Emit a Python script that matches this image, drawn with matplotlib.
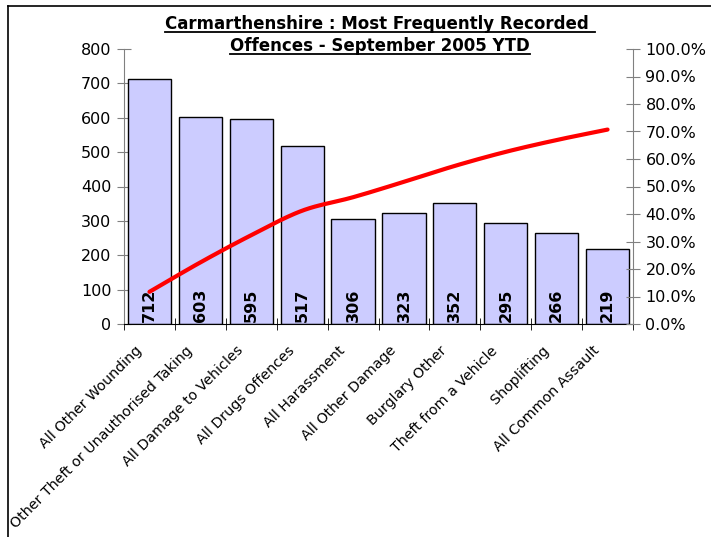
import numpy as np
import matplotlib
matplotlib.use("Agg")
import matplotlib.pyplot as plt
import matplotlib.transforms as mtransforms
from matplotlib.ticker import PercentFormatter, FixedLocator, NullFormatter
from matplotlib.lines import Line2D

categories = ["All Other Wounding", "Other Theft or Unauthorised Taking",
              "All Damage to Vehicles", "All Drugs Offences", "All Harassment",
              "All Other Damage", "Burglary Other", "Theft from a Vehicle",
              "Shoplifting", "All Common Assault"]
counts = [712, 603, 595, 517, 306, 323, 352, 295, 266, 219]
cum_pct = [0.117, 0.224, 0.323, 0.412, 0.461, 0.517, 0.575, 0.626, 0.669, 0.707]
title_lines = ["Carmarthenshire : Most Frequently Recorded ", "Offences - September 2005 YTD"]

def catmull(x, y, n=20):
    # smoothed line, like the spreadsheet's "smoothed line" option
    px = np.r_[2*x[0]-x[1], x, 2*x[-1]-x[-2]]
    py = np.r_[2*y[0]-y[1], y, 2*y[-1]-y[-2]]
    xs, ys = [], []
    t = np.linspace(0, 1, n, endpoint=False)
    for i in range(1, len(px)-2):
        for p, out in ((px, xs), (py, ys)):
            p0, p1, p2, p3 = p[i-1], p[i], p[i+1], p[i+2]
            out.extend(0.5*((2*p1) + (-p0+p2)*t + (2*p0-5*p1+4*p2-p3)*t**2 + (-p0+3*p1-3*p2+p3)*t**3))
    xs.append(x[-1]); ys.append(y[-1])
    return np.array(xs), np.array(ys)

W, H = 711, 537
fig = plt.figure(figsize=(W/100, H/100), dpi=100)
ax = fig.add_axes([124/W, 1-324/H, (633-124)/W, (324-49)/H])
x = np.arange(len(categories))
ax.bar(x, counts, width=0.85, color="#CCCCFF", edgecolor="black", linewidth=1, zorder=2)
for xi, v in zip(x, counts):
    ax.text(xi, 6, str(v), rotation=90, ha="center", va="bottom", fontsize=11.5,
            fontweight="bold", zorder=4)
ax.set_xlim(-0.5, len(categories)-0.5)
ax.set_ylim(0, 800)
ax.set_yticks(range(0, 801, 100))
ax.set_xticks(x)
ax.set_xticklabels(categories, rotation=45, ha="right", rotation_mode="anchor", fontsize=10.3)
ax.tick_params(axis="x", length=0, pad=14)
off = mtransforms.ScaledTranslation(-15/100, 0, fig.dpi_scale_trans)
for lab in ax.get_xticklabels():
    lab.set_transform(lab.get_transform() + off)
ax.xaxis.set_minor_locator(FixedLocator(np.arange(-0.5, len(categories), 1.0)))
ax.xaxis.set_minor_formatter(NullFormatter())
ax.tick_params(axis="x", which="minor", direction="inout", length=8, color="black")
ax.tick_params(axis="y", direction="inout", length=10, color="#808080", labelsize=11.5, pad=4)
ax.spines["top"].set_visible(False)
ax.spines["left"].set_color("#808080")
ax.spines["right"].set_visible(False)
ax.spines["bottom"].set_color("black")

ax2 = ax.twinx()
ax2.set_ylim(0, 1)
ax2.set_yticks(np.arange(0, 1.01, 0.1))
ax2.yaxis.set_major_formatter(PercentFormatter(1.0, decimals=1))
ax2.tick_params(axis="y", direction="inout", length=10, color="#808080", labelsize=11.5, pad=4)
for s in ("top", "left", "bottom"):
    ax2.spines[s].set_visible(False)
ax2.spines["right"].set_color("#808080")
sx, sy = catmull(x.astype(float), np.array(cum_pct))
ax2.plot(sx, sy, color="red", linewidth=3, solid_capstyle="round", zorder=5)

# chart area border (left and top visible)
fig.add_artist(Line2D([8/W, 8/W], [0, 1-6/H], color="black", linewidth=1.2))
fig.add_artist(Line2D([8/W, 1], [1-6/H, 1-6/H], color="black", linewidth=1.2))

# underlined two-line title
fig.canvas.draw()
r = fig.canvas.get_renderer()
for i, line in enumerate(title_lines):
    yc = 1 - (24 + 22*i)/H
    t = fig.text(380/W, yc, line, ha="center", va="center", fontsize=12, fontweight="bold")
    bb = t.get_window_extent(r)
    uy = (bb.y0 + 1)/H
    fig.add_artist(Line2D([bb.x0/W, bb.x1/W], [uy, uy], color="black", linewidth=1.3))

fig.savefig("out.png", dpi=100)
